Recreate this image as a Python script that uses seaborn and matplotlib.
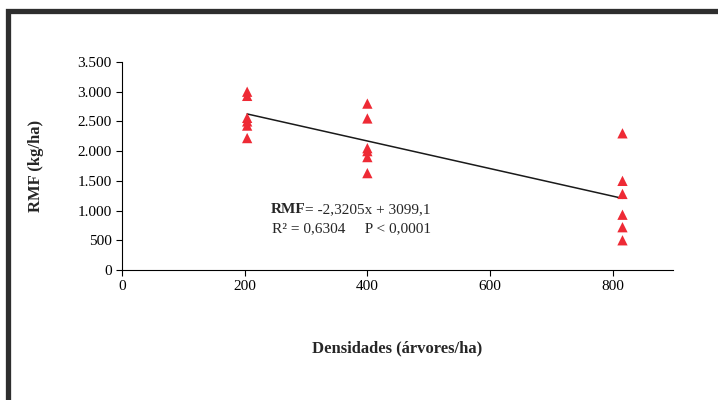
import numpy as np
import pandas as pd
import matplotlib
matplotlib.use('Agg')
import matplotlib.pyplot as plt
import matplotlib.patches as patches
from matplotlib.ticker import FuncFormatter
import seaborn as sns

# dados
densidades = [204] * 6 + [400] * 6 + [816] * 6
rmf = [3000, 2930, 2560, 2500, 2430, 2220,
       2800, 2550, 2050, 2000, 1900, 1630,
       2300, 1500, 1280, 930, 720, 500]
coef_a = -2.3205
coef_b = 3099.1
x_ticks = [0, 200, 400, 600, 800]
y_ticks = [0, 500, 1000, 1500, 2000, 2500, 3000, 3500]

df = pd.DataFrame({'dens': densidades, 'rmf': rmf})

sns.set_style('ticks')
plt.rcParams['font.family'] = ['Liberation Serif', 'DejaVu Serif']

fig = plt.figure(figsize=(7.18, 4.0), dpi=100)
ax = fig.add_axes([0.170, 0.325, 0.767, 0.52])

# moldura externa
frame = patches.Rectangle((7.5 / 718, -0.1), 1.2, 1 - 10.5 / 400 + 0.1,
                          transform=fig.transFigure, fill=False,
                          edgecolor='#2e2e2e', linewidth=3.8)
fig.patches.append(frame)

sns.scatterplot(data=df, x='dens', y='rmf', marker='^', s=55,
                color='#ee2a35', edgecolor='none', ax=ax, zorder=3)

# reta ajustada
xl = np.array([min(densidades), max(densidades)])
ax.plot(xl, coef_a * xl + coef_b, color='#1a1a1a', linewidth=1.1, zorder=2)

ax.set_xlim(0, 898)
ax.set_ylim(0, 3500)
ax.set_xticks(x_ticks)
ax.set_yticks(y_ticks)
ax.yaxis.set_major_formatter(FuncFormatter(lambda v, p: f'{v:,.0f}'.replace(',', '.')))
ax.tick_params(labelsize=11, direction='out', length=4, width=0.8, colors='black')
for s in ['top', 'right']:
    ax.spines[s].set_visible(False)
for s in ['left', 'bottom']:
    ax.spines[s].set_linewidth(0.8)
    ax.spines[s].set_color('black')

ax.set_xlabel('Densidades (árvores/ha)', fontsize=12, fontweight='bold', labelpad=34)
ax.set_ylabel('RMF (kg/ha)', fontsize=12, fontweight='bold', labelpad=24)

t = ax.text(242, 1010, 'RMF', fontsize=11, fontweight='bold', va='center')
ax.annotate('= -2,3205x + 3099,1', xy=(1, 0.5), xycoords=t, va='center',
            fontsize=11)
ax.text(244, 690, 'R² = 0,6304     P < 0,0001', fontsize=11, va='center')

fig.savefig('out.png', dpi=100)
